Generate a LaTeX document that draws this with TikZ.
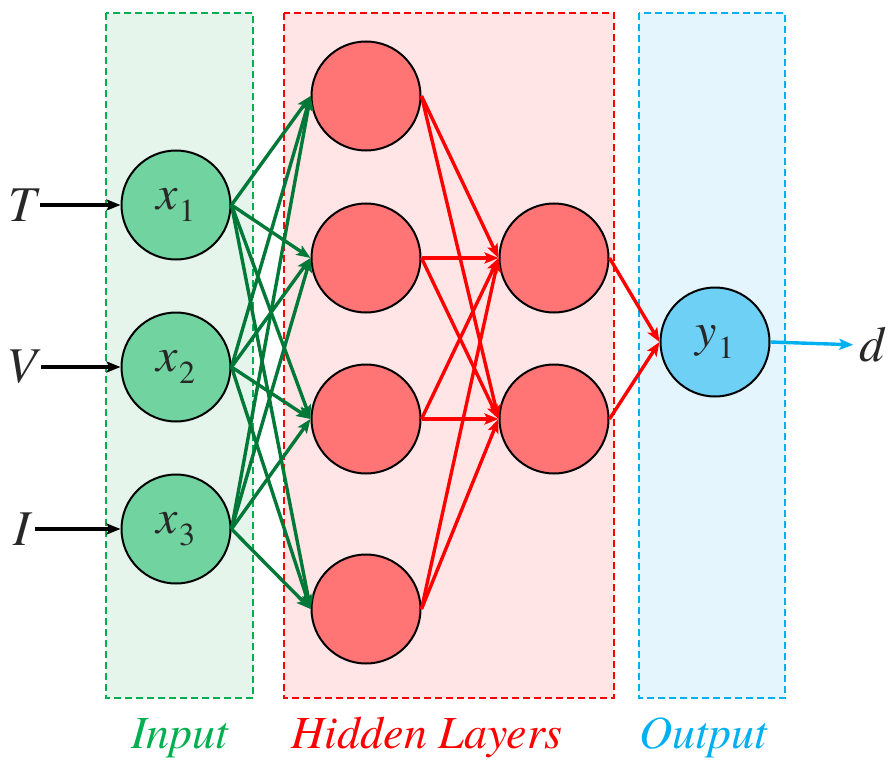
\documentclass[tikz,border=0pt]{standalone}
\usepackage{fontspec}
\setmainfont{texgyretermes}[Extension=.otf, UprightFont=*-regular, ItalicFont=*-italic, BoldFont=*-bold, BoldItalicFont=*-bolditalic]
\usetikzlibrary{arrows.meta}

\definecolor{inFill}{RGB}{113,211,159}
\definecolor{inBox}{RGB}{230,245,236}
\definecolor{inLine}{RGB}{0,176,80}
\definecolor{inEdge}{RGB}{0,120,56}
\definecolor{hidFill}{RGB}{255,117,117}
\definecolor{hidBox}{RGB}{255,229,229}
\definecolor{hidLine}{RGB}{255,0,0}
\definecolor{outFill}{RGB}{111,208,246}
\definecolor{outBox}{RGB}{229,245,253}
\definecolor{outLine}{RGB}{0,176,240}
\definecolor{ink}{RGB}{40,40,40}

% variable with an upright index
\newcommand{\var}[2]{\textit{#1}\kern1pt\raisebox{-0.24em}{\fontsize{32}{32}\selectfont #2}}

\tikzset{
  layerbox/.style={dashed, dash pattern=on 7pt off 4pt, line width=2pt},
  neuron/.style={circle, draw=black, line width=2pt, minimum size=109pt, inner sep=0pt,
                 font=\fontsize{48}{48}\selectfont, text=ink},
  signal/.style={font=\fontsize{50}{50}\selectfont\itshape, text=ink, inner sep=4pt},
  tag/.style={font=\fontsize{46}{46}\selectfont\itshape},
  edge/.style={line width=3.4pt, -{Stealth[length=14pt,width=11pt,inset=3pt]}},
}

\begin{document}
\begin{tikzpicture}[x=1pt, y=-1pt]
  \useasboundingbox (0,0) rectangle (888,762);

  % layer backgrounds
  \draw[layerbox, draw=inLine, fill=inBox]   (106,13) rectangle (253,698);
  \draw[layerbox, draw=hidLine, fill=hidBox] (284,13) rectangle (614,698);
  \draw[layerbox, draw=outLine, fill=outBox] (639,13) rectangle (785,698);

  % input neurons
  \node[neuron, fill=inFill] (x1) at (176,205) {\var{x}{1}};
  \node[neuron, fill=inFill] (x2) at (176,367) {\var{x}{2}};
  \node[neuron, fill=inFill] (x3) at (176,529) {\var{x}{3}};

  % first hidden layer
  \node[neuron, fill=hidFill] (h1) at (366,96) {};
  \node[neuron, fill=hidFill] (h2) at (366,258) {};
  \node[neuron, fill=hidFill] (h3) at (366,419) {};
  \node[neuron, fill=hidFill] (h4) at (366,609) {};

  % second hidden layer
  \node[neuron, fill=hidFill] (g1) at (554,258) {};
  \node[neuron, fill=hidFill] (g2) at (554,419) {};

  % output neuron
  \node[neuron, fill=outFill] (y1) at (715,342) {\var{y}{1}};

  % input signals
  \node[signal] (T) at (22,205) {T};
  \node[signal] (V) at (22,367) {V};
  \node[signal] (I) at (22,529) {I};
  \node[signal, inner sep=0pt] (d) at (872,345) {d};

  \foreach \s/\t in {T/x1, V/x2, I/x3}
    \draw[edge, draw=black] (\s.east) -- (\t.west);

  % input -> hidden 1
  \foreach \s in {x1,x2,x3}
    \foreach \t in {h1,h2,h3,h4}
      \draw[edge, draw=inEdge] (\s.east) -- (\t.west);

  % hidden 1 -> hidden 2
  \foreach \s in {h1,h2,h3,h4}
    \foreach \t in {g1,g2}
      \draw[edge, draw=hidLine] (\s.east) -- (\t.west);

  % hidden 2 -> output
  \foreach \s in {g1,g2}
    \draw[edge, draw=hidLine] (\s.east) -- (y1.west);

  \draw[edge, draw=outLine, shorten >=6pt] (y1.east) -- (d.west);

  % layer captions
  \node[tag, text=inLine]  (capIn)  at (180,738) {Input};
  \node[tag, text=hidLine] (capHid) at (427,738) {Hidden Layers};
  \node[tag, text=outLine] (capOut) at (703,738) {Output};
\end{tikzpicture}
\end{document}
